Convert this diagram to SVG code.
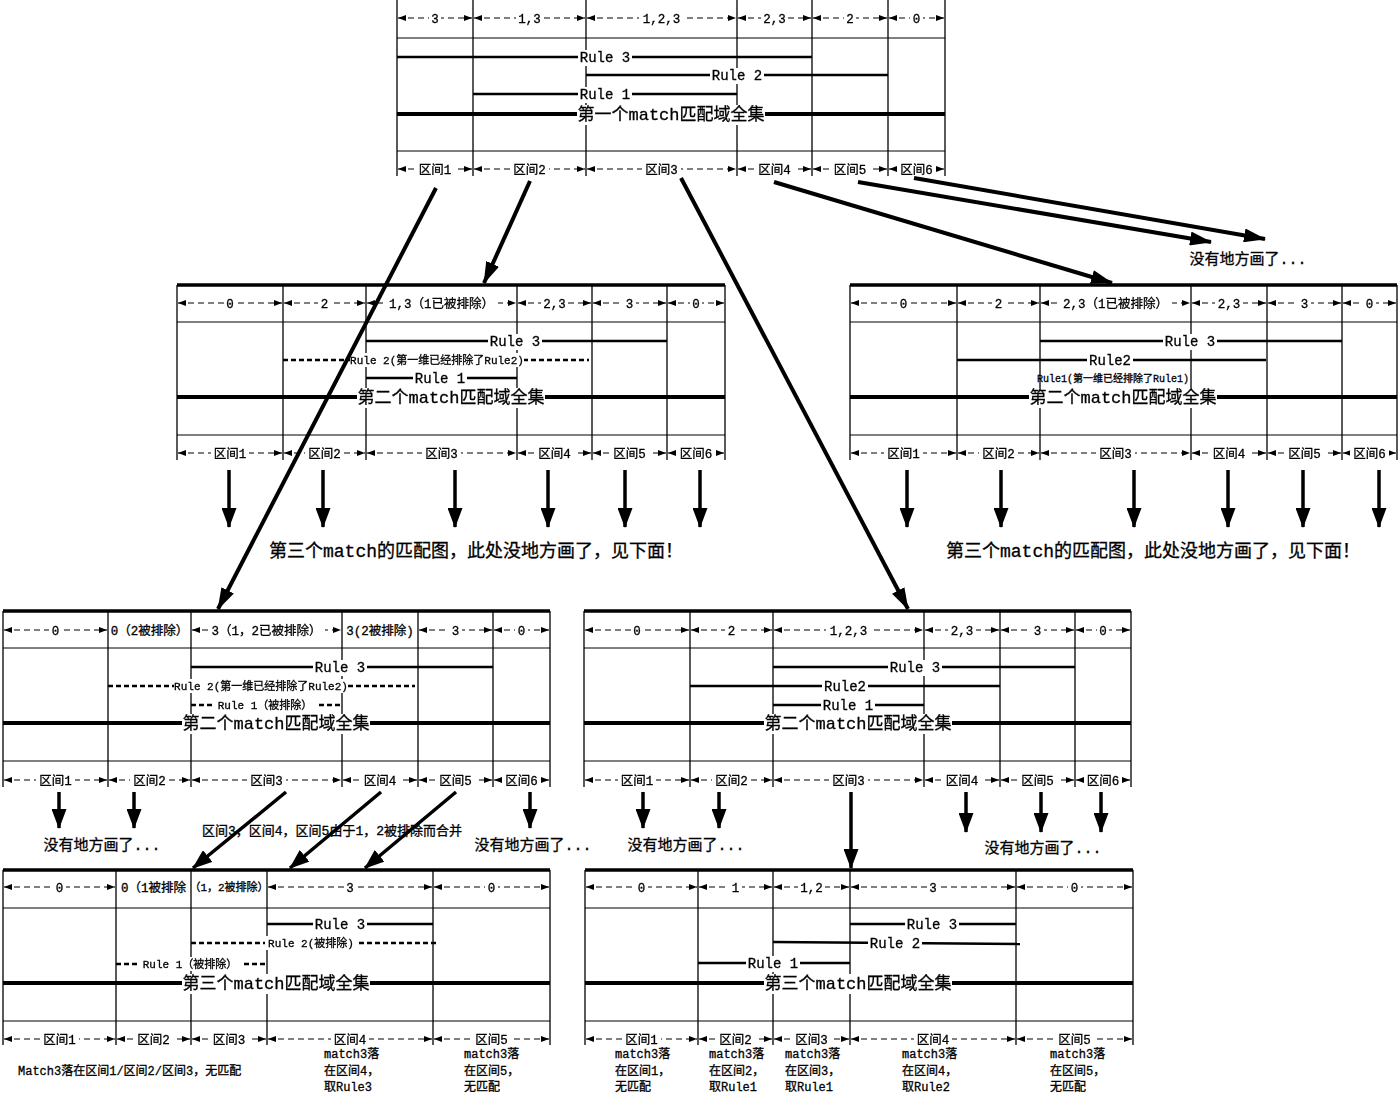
<svg xmlns="http://www.w3.org/2000/svg" width="1400" height="1096" viewBox="0 0 1400 1096">
<style>
text{font-family:"Liberation Mono","Noto Sans CJK SC",monospace;fill:#000;stroke:#000;stroke-width:0.3px}
.s{font-size:12.5px;text-anchor:middle}
.s2{font-size:11px;text-anchor:middle}
.a{font-size:12px}
.r{font-size:14px;text-anchor:middle}
.n{font-size:11px;text-anchor:middle}
.n2{font-size:10px;text-anchor:middle}
.ti{font-size:17px;text-anchor:middle}
.big{font-size:18px;text-anchor:middle}
.nm{font-size:15px;text-anchor:middle}
.mg{font-size:13px;text-anchor:middle}
.hs{filter:url(#fs)}
.hm{filter:url(#fm)}
.hl{filter:url(#fl)}
.hx{filter:url(#fx)}
line{stroke:#000}
.v{stroke-width:1.3}
.h{stroke-width:1}
.tb{stroke-width:3.5}
.th{stroke-width:4}
.ru{stroke-width:2.5}
.rd{stroke-width:2.5;stroke-dasharray:5 3}
.dim{stroke-width:1;stroke-dasharray:6 4;marker-start:url(#da);marker-end:url(#da)}
.c{stroke-width:4;marker-end:url(#ah)}
.cd{stroke-width:3.5;marker-end:url(#ah2)}
</style>
<defs>
<filter id="fs" x="-0.25" y="0" width="1.5" height="1" color-interpolation-filters="sRGB"><feFlood flood-color="#fff"/><feComposite in="SourceGraphic" operator="over"/></filter>
<filter id="fm" x="-0.08" y="0" width="1.16" height="1" color-interpolation-filters="sRGB"><feFlood flood-color="#fff"/><feComposite in="SourceGraphic" operator="over"/></filter>
<filter id="fl" x="-0.03" y="0" width="1.06" height="1" color-interpolation-filters="sRGB"><feFlood flood-color="#fff"/><feComposite in="SourceGraphic" operator="over"/></filter>
<filter id="fx" x="0" y="0" width="1" height="1" color-interpolation-filters="sRGB"><feFlood flood-color="#fff"/><feComposite in="SourceGraphic" operator="over"/></filter>
<marker id="da" viewBox="0 0 8 6" refX="8" refY="3" markerWidth="8" markerHeight="6" markerUnits="userSpaceOnUse" orient="auto-start-reverse"><path d="M0,0L8,3L0,6z" fill="#000"/></marker>
<marker id="ah" viewBox="0 0 22 14" refX="21" refY="7" markerWidth="22" markerHeight="14" markerUnits="userSpaceOnUse" orient="auto"><path d="M0,0L22,7L0,14z" fill="#000"/></marker>
<marker id="ah2" viewBox="0 0 20 15" refX="19" refY="7.5" markerWidth="20" markerHeight="15" markerUnits="userSpaceOnUse" orient="auto"><path d="M0,0L20,7.5L0,15z" fill="#000"/></marker>
</defs>
<rect width="1400" height="1096" fill="#fff"/>

<g id="match1">
<line class="v" x1="397" y1="0" x2="397" y2="176"/><line class="v" x1="473" y1="0" x2="473" y2="176"/><line class="v" x1="586" y1="0" x2="586" y2="176"/><line class="v" x1="737" y1="0" x2="737" y2="176"/><line class="v" x1="812" y1="0" x2="812" y2="176"/><line class="v" x1="888" y1="0" x2="888" y2="176"/><line class="v" x1="945" y1="0" x2="945" y2="176"/>
<line class="h" x1="397" y1="38" x2="945" y2="38"/><line class="h" x1="397" y1="151" x2="945" y2="151"/>
<line class="dim" x1="398" y1="18" x2="472" y2="18"/><line class="dim" x1="474" y1="18" x2="585" y2="18"/><line class="dim" x1="587" y1="18" x2="736" y2="18"/><line class="dim" x1="738" y1="18" x2="811" y2="18"/><line class="dim" x1="813" y1="18" x2="887" y2="18"/><line class="dim" x1="889" y1="18" x2="944" y2="18"/>
<text class="s hs" x="435" y="22.5">3</text><text class="s hm" x="529.5" y="22.5">1,3</text><text class="s hm" x="661.5" y="22.5">1,2,3</text><text class="s hm" x="774.5" y="22.5">2,3</text><text class="s hs" x="850" y="22.5">2</text><text class="s hs" x="916.5" y="22.5">0</text>
<line class="ru" x1="397" y1="57" x2="812" y2="57"/><text class="r hl" x="605" y="62">Rule 3</text>
<line class="ru" x1="586" y1="75" x2="888" y2="75"/><text class="r hl" x="737" y="80">Rule 2</text>
<line class="ru" x1="473" y1="94" x2="737" y2="94"/><text class="r hl" x="605" y="99">Rule 1</text>
<line class="th" x1="397" y1="114" x2="945" y2="114"/><text class="ti hx" x="671" y="120">第一个match匹配域全集</text>
<line class="dim" x1="398" y1="169" x2="472" y2="169"/><line class="dim" x1="474" y1="169" x2="585" y2="169"/><line class="dim" x1="587" y1="169" x2="736" y2="169"/><line class="dim" x1="738" y1="169" x2="811" y2="169"/><line class="dim" x1="813" y1="169" x2="887" y2="169"/><line class="dim" x1="889" y1="169" x2="944" y2="169"/>
<text class="s hm" x="435" y="173.5">区间1</text><text class="s hm" x="529.5" y="173.5">区间2</text><text class="s hm" x="661.5" y="173.5">区间3</text><text class="s hm" x="774.5" y="173.5">区间4</text><text class="s hm" x="850" y="173.5">区间5</text><text class="s hm" x="916.5" y="173.5">区间6</text>
</g>

<g id="match2-left">
<line class="v" x1="177" y1="285" x2="177" y2="460"/><line class="v" x1="283" y1="285" x2="283" y2="460"/><line class="v" x1="366" y1="285" x2="366" y2="460"/><line class="v" x1="517" y1="285" x2="517" y2="460"/><line class="v" x1="592" y1="285" x2="592" y2="460"/><line class="v" x1="667" y1="285" x2="667" y2="460"/><line class="v" x1="725" y1="285" x2="725" y2="460"/>
<line class="tb" x1="177" y1="285" x2="725" y2="285"/>
<line class="h" x1="177" y1="322" x2="725" y2="322"/><line class="h" x1="177" y1="435" x2="725" y2="435"/>
<line class="dim" x1="178" y1="303" x2="282" y2="303"/><line class="dim" x1="284" y1="303" x2="365" y2="303"/><line class="dim" x1="367" y1="303" x2="516" y2="303"/><line class="dim" x1="518" y1="303" x2="591" y2="303"/><line class="dim" x1="593" y1="303" x2="666" y2="303"/><line class="dim" x1="668" y1="303" x2="724" y2="303"/>
<text class="s hs" x="230" y="307.5">0</text><text class="s hs" x="324.5" y="307.5">2</text><text class="s hl" x="441.5" y="307.5">1,3（1已被排除）</text><text class="s hm" x="554.5" y="307.5">2,3</text><text class="s hs" x="629.5" y="307.5">3</text><text class="s hs" x="696" y="307.5">0</text>
<line class="ru" x1="366" y1="341" x2="667" y2="341"/><text class="r hl" x="515" y="346">Rule 3</text>
<line class="rd" x1="283" y1="360" x2="589" y2="360"/><text class="n hx" x="437" y="364">Rule 2(第一维已经排除了Rule2)</text>
<line class="ru" x1="366" y1="378" x2="517" y2="378"/><text class="r hl" x="440" y="383">Rule 1</text>
<line class="th" x1="177" y1="397" x2="725" y2="397"/><text class="ti hx" x="451" y="403">第二个match匹配域全集</text>
<line class="dim" x1="178" y1="453" x2="282" y2="453"/><line class="dim" x1="284" y1="453" x2="365" y2="453"/><line class="dim" x1="367" y1="453" x2="516" y2="453"/><line class="dim" x1="518" y1="453" x2="591" y2="453"/><line class="dim" x1="593" y1="453" x2="666" y2="453"/><line class="dim" x1="668" y1="453" x2="724" y2="453"/>
<text class="s hm" x="230" y="457.5">区间1</text><text class="s hm" x="324.5" y="457.5">区间2</text><text class="s hm" x="441.5" y="457.5">区间3</text><text class="s hm" x="554.5" y="457.5">区间4</text><text class="s hm" x="629.5" y="457.5">区间5</text><text class="s hm" x="696" y="457.5">区间6</text>
</g>

<g id="match2-right">
<line class="v" x1="850" y1="285" x2="850" y2="460"/><line class="v" x1="957" y1="285" x2="957" y2="460"/><line class="v" x1="1040" y1="285" x2="1040" y2="460"/><line class="v" x1="1191" y1="285" x2="1191" y2="460"/><line class="v" x1="1267" y1="285" x2="1267" y2="460"/><line class="v" x1="1342" y1="285" x2="1342" y2="460"/><line class="v" x1="1397" y1="285" x2="1397" y2="460"/>
<line class="tb" x1="850" y1="285" x2="1397" y2="285"/>
<line class="h" x1="850" y1="322" x2="1397" y2="322"/><line class="h" x1="850" y1="435" x2="1397" y2="435"/>
<line class="dim" x1="851" y1="303" x2="956" y2="303"/><line class="dim" x1="958" y1="303" x2="1039" y2="303"/><line class="dim" x1="1041" y1="303" x2="1190" y2="303"/><line class="dim" x1="1192" y1="303" x2="1266" y2="303"/><line class="dim" x1="1268" y1="303" x2="1341" y2="303"/><line class="dim" x1="1343" y1="303" x2="1396" y2="303"/>
<text class="s hs" x="903.5" y="307.5">0</text><text class="s hs" x="998.5" y="307.5">2</text><text class="s hl" x="1115.5" y="307.5">2,3（1已被排除）</text><text class="s hm" x="1229" y="307.5">2,3</text><text class="s hs" x="1304.5" y="307.5">3</text><text class="s hs" x="1369.5" y="307.5">0</text>
<line class="ru" x1="1040" y1="341" x2="1342" y2="341"/><text class="r hl" x="1190" y="346">Rule 3</text>
<line class="ru" x1="957" y1="360" x2="1266" y2="360"/><text class="r hl" x="1110" y="365">Rule2</text>
<text class="n2" x="1113" y="382">Rule1(第一维已经排除了Rule1)</text>
<line class="th" x1="850" y1="397" x2="1397" y2="397"/><text class="ti hx" x="1123" y="403">第二个match匹配域全集</text>
<line class="dim" x1="851" y1="453" x2="956" y2="453"/><line class="dim" x1="958" y1="453" x2="1039" y2="453"/><line class="dim" x1="1041" y1="453" x2="1190" y2="453"/><line class="dim" x1="1192" y1="453" x2="1266" y2="453"/><line class="dim" x1="1268" y1="453" x2="1341" y2="453"/><line class="dim" x1="1343" y1="453" x2="1396" y2="453"/>
<text class="s hm" x="903.5" y="457.5">区间1</text><text class="s hm" x="998.5" y="457.5">区间2</text><text class="s hm" x="1115.5" y="457.5">区间3</text><text class="s hm" x="1229" y="457.5">区间4</text><text class="s hm" x="1304.5" y="457.5">区间5</text><text class="s hm" x="1369.5" y="457.5">区间6</text>
</g>

<g id="match2-lower-left">
<line class="v" x1="3" y1="611" x2="3" y2="787"/><line class="v" x1="108" y1="611" x2="108" y2="787"/><line class="v" x1="191" y1="611" x2="191" y2="787"/><line class="v" x1="342" y1="611" x2="342" y2="787"/><line class="v" x1="418" y1="611" x2="418" y2="787"/><line class="v" x1="493" y1="611" x2="493" y2="787"/><line class="v" x1="550" y1="611" x2="550" y2="787"/>
<line class="tb" x1="3" y1="611" x2="550" y2="611"/>
<line class="h" x1="3" y1="648" x2="550" y2="648"/><line class="h" x1="3" y1="761" x2="550" y2="761"/>
<line class="dim" x1="4" y1="630" x2="107" y2="630"/><line class="dim" x1="192" y1="630" x2="341" y2="630"/><line class="dim" x1="419" y1="630" x2="492" y2="630"/><line class="dim" x1="494" y1="630" x2="549" y2="630"/>
<text class="s hs" x="55.5" y="634.5">0</text><text class="s" x="149.5" y="634.5">0（2被排除）</text><text class="s hl" x="266.5" y="634.5">3（1，2已被排除）</text><text class="s" x="380" y="634.5">3(2被排除)</text><text class="s hs" x="455.5" y="634.5">3</text><text class="s hs" x="521.5" y="634.5">0</text>
<line class="ru" x1="191" y1="667" x2="493" y2="667"/><text class="r hl" x="340" y="672">Rule 3</text>
<line class="rd" x1="108" y1="686" x2="415" y2="686"/><text class="n hx" x="261" y="690">Rule 2(第一维已经排除了Rule2)</text>
<line class="rd" x1="191" y1="705" x2="342" y2="705"/><text class="n hl" x="265" y="709">Rule 1（被排除）</text>
<line class="th" x1="3" y1="723" x2="550" y2="723"/><text class="ti hx" x="276" y="729">第二个match匹配域全集</text>
<line class="dim" x1="4" y1="780" x2="107" y2="780"/><line class="dim" x1="109" y1="780" x2="190" y2="780"/><line class="dim" x1="192" y1="780" x2="341" y2="780"/><line class="dim" x1="343" y1="780" x2="417" y2="780"/><line class="dim" x1="419" y1="780" x2="492" y2="780"/><line class="dim" x1="494" y1="780" x2="549" y2="780"/>
<text class="s hm" x="55.5" y="784.5">区间1</text><text class="s hm" x="149.5" y="784.5">区间2</text><text class="s hm" x="266.5" y="784.5">区间3</text><text class="s hm" x="380" y="784.5">区间4</text><text class="s hm" x="455.5" y="784.5">区间5</text><text class="s hm" x="521.5" y="784.5">区间6</text>
</g>

<g id="match2-lower-right">
<line class="v" x1="584" y1="611" x2="584" y2="787"/><line class="v" x1="690" y1="611" x2="690" y2="787"/><line class="v" x1="773" y1="611" x2="773" y2="787"/><line class="v" x1="924" y1="611" x2="924" y2="787"/><line class="v" x1="1000" y1="611" x2="1000" y2="787"/><line class="v" x1="1075" y1="611" x2="1075" y2="787"/><line class="v" x1="1131" y1="611" x2="1131" y2="787"/>
<line class="tb" x1="584" y1="611" x2="1131" y2="611"/>
<line class="h" x1="584" y1="648" x2="1131" y2="648"/><line class="h" x1="584" y1="761" x2="1131" y2="761"/>
<line class="dim" x1="585" y1="630" x2="689" y2="630"/><line class="dim" x1="691" y1="630" x2="772" y2="630"/><line class="dim" x1="774" y1="630" x2="923" y2="630"/><line class="dim" x1="925" y1="630" x2="999" y2="630"/><line class="dim" x1="1001" y1="630" x2="1074" y2="630"/><line class="dim" x1="1076" y1="630" x2="1130" y2="630"/>
<text class="s hs" x="637" y="634.5">0</text><text class="s hs" x="731.5" y="634.5">2</text><text class="s hm" x="848.5" y="634.5">1,2,3</text><text class="s hm" x="962" y="634.5">2,3</text><text class="s hs" x="1037.5" y="634.5">3</text><text class="s hs" x="1103" y="634.5">0</text>
<line class="ru" x1="773" y1="667" x2="1075" y2="667"/><text class="r hl" x="915" y="672">Rule 3</text>
<line class="ru" x1="690" y1="686" x2="1000" y2="686"/><text class="r hl" x="845" y="691">Rule2</text>
<line class="ru" x1="773" y1="705" x2="924" y2="705"/><text class="r hl" x="848" y="710">Rule 1</text>
<line class="th" x1="584" y1="723" x2="1131" y2="723"/><text class="ti hx" x="858" y="729">第二个match匹配域全集</text>
<line class="dim" x1="585" y1="780" x2="689" y2="780"/><line class="dim" x1="691" y1="780" x2="772" y2="780"/><line class="dim" x1="774" y1="780" x2="923" y2="780"/><line class="dim" x1="925" y1="780" x2="999" y2="780"/><line class="dim" x1="1001" y1="780" x2="1074" y2="780"/><line class="dim" x1="1076" y1="780" x2="1130" y2="780"/>
<text class="s hm" x="637" y="784.5">区间1</text><text class="s hm" x="731.5" y="784.5">区间2</text><text class="s hm" x="848.5" y="784.5">区间3</text><text class="s hm" x="962" y="784.5">区间4</text><text class="s hm" x="1037.5" y="784.5">区间5</text><text class="s hm" x="1103" y="784.5">区间6</text>
</g>

<g id="match3-left">
<line class="v" x1="3" y1="870" x2="3" y2="1045"/><line class="v" x1="116" y1="870" x2="116" y2="1045"/><line class="v" x1="191" y1="870" x2="191" y2="1045"/><line class="v" x1="267" y1="870" x2="267" y2="1045"/><line class="v" x1="433" y1="870" x2="433" y2="1045"/><line class="v" x1="550" y1="870" x2="550" y2="1045"/>
<line class="tb" x1="3" y1="870" x2="550" y2="870"/>
<line class="h" x1="3" y1="908" x2="550" y2="908"/><line class="h" x1="3" y1="1021" x2="550" y2="1021"/>
<line class="dim" x1="4" y1="887" x2="115" y2="887"/><line class="dim" x1="268" y1="887" x2="432" y2="887"/><line class="dim" x1="434" y1="887" x2="549" y2="887"/>
<text class="s hs" x="59.5" y="891.5">0</text><text class="s" x="153.5" y="891.5">0（1被排除</text><text class="s2" x="229" y="891">（1，2被排除）</text><text class="s hs" x="350" y="891.5">3</text><text class="s hs" x="491.5" y="891.5">0</text>
<line class="ru" x1="267" y1="924" x2="433" y2="924"/><text class="r hl" x="340" y="929">Rule 3</text>
<line class="rd" x1="191" y1="943" x2="437" y2="943"/><text class="n hl" x="311" y="947">Rule 2(被排除)</text>
<line class="rd" x1="116" y1="964" x2="267" y2="964"/><text class="n hl" x="190" y="968">Rule 1（被排除）</text>
<line class="th" x1="3" y1="983" x2="550" y2="983"/><text class="ti hx" x="276" y="989">第三个match匹配域全集</text>
<line class="dim" x1="4" y1="1039" x2="115" y2="1039"/><line class="dim" x1="117" y1="1039" x2="190" y2="1039"/><line class="dim" x1="192" y1="1039" x2="266" y2="1039"/><line class="dim" x1="268" y1="1039" x2="432" y2="1039"/><line class="dim" x1="434" y1="1039" x2="549" y2="1039"/>
<text class="s hm" x="59.5" y="1043.5">区间1</text><text class="s hm" x="153.5" y="1043.5">区间2</text><text class="s hm" x="229" y="1043.5">区间3</text><text class="s hm" x="350" y="1043.5">区间4</text><text class="s hm" x="491.5" y="1043.5">区间5</text>
</g>

<g id="match3-right">
<line class="v" x1="585" y1="870" x2="585" y2="1045"/><line class="v" x1="698" y1="870" x2="698" y2="1045"/><line class="v" x1="773" y1="870" x2="773" y2="1045"/><line class="v" x1="850" y1="870" x2="850" y2="1045"/><line class="v" x1="1016" y1="870" x2="1016" y2="1045"/><line class="v" x1="1133" y1="870" x2="1133" y2="1045"/>
<line class="tb" x1="585" y1="870" x2="1133" y2="870"/>
<line class="h" x1="585" y1="908" x2="1133" y2="908"/><line class="h" x1="585" y1="1021" x2="1133" y2="1021"/>
<line class="dim" x1="586" y1="887" x2="697" y2="887"/><line class="dim" x1="699" y1="887" x2="772" y2="887"/><line class="dim" x1="774" y1="887" x2="849" y2="887"/><line class="dim" x1="851" y1="887" x2="1015" y2="887"/><line class="dim" x1="1017" y1="887" x2="1132" y2="887"/>
<text class="s hs" x="641.5" y="891.5">0</text><text class="s hs" x="735.5" y="891.5">1</text><text class="s hm" x="811.5" y="891.5">1,2</text><text class="s hs" x="933" y="891.5">3</text><text class="s hs" x="1074.5" y="891.5">0</text>
<line class="ru" x1="850" y1="924" x2="1016" y2="924"/><text class="r hl" x="932" y="929">Rule 3</text>
<line class="ru" x1="773" y1="942" x2="1020" y2="944"/><text class="r hl" x="895" y="948">Rule 2</text>
<line class="ru" x1="698" y1="963" x2="850" y2="963"/><text class="r hl" x="773" y="968">Rule 1</text>
<line class="th" x1="585" y1="983" x2="1133" y2="983"/><text class="ti hx" x="858" y="989">第三个match匹配域全集</text>
<line class="dim" x1="586" y1="1039" x2="697" y2="1039"/><line class="dim" x1="699" y1="1039" x2="772" y2="1039"/><line class="dim" x1="774" y1="1039" x2="849" y2="1039"/><line class="dim" x1="851" y1="1039" x2="1015" y2="1039"/><line class="dim" x1="1017" y1="1039" x2="1132" y2="1039"/>
<text class="s hm" x="641.5" y="1043.5">区间1</text><text class="s hm" x="735.5" y="1043.5">区间2</text><text class="s hm" x="811.5" y="1043.5">区间3</text><text class="s hm" x="933" y="1043.5">区间4</text><text class="s hm" x="1074.5" y="1043.5">区间5</text>
</g>

<g id="notes">
<text class="nm" x="1248" y="264">没有地方画了...</text>
<text class="big" x="476" y="557">第三个match的匹配图，此处没地方画了，见下面！</text>
<text class="big" x="1153" y="557">第三个match的匹配图，此处没地方画了，见下面！</text>
<text class="nm" x="102" y="850">没有地方画了...</text>
<text class="nm" x="533" y="850">没有地方画了...</text>
<text class="nm" x="686" y="850">没有地方画了...</text>
<text class="nm" x="1043" y="853">没有地方画了...</text>
<text class="mg" x="332" y="835">区间3，区间4，区间5由于1，2被排除而合并</text>
<text class="a" x="18" y="1075">Match3落在区间1/区间2/区间3，无匹配</text>
<text class="a" x="324" y="1058">match3落</text><text class="a" x="324" y="1075">在区间4，</text><text class="a" x="324" y="1091">取Rule3</text>
<text class="a" x="464" y="1058">match3落</text><text class="a" x="464" y="1075">在区间5，</text><text class="a" x="464" y="1091">无匹配</text>
<text class="a" x="615" y="1058">match3落</text><text class="a" x="615" y="1075">在区间1，</text><text class="a" x="615" y="1091">无匹配</text>
<text class="a" x="709" y="1058">match3落</text><text class="a" x="709" y="1075">在区间2，</text><text class="a" x="709" y="1091">取Rule1</text>
<text class="a" x="785" y="1058">match3落</text><text class="a" x="785" y="1075">在区间3，</text><text class="a" x="785" y="1091">取Rule1</text>
<text class="a" x="902" y="1058">match3落</text><text class="a" x="902" y="1075">在区间4，</text><text class="a" x="902" y="1091">取Rule2</text>
<text class="a" x="1050" y="1058">match3落</text><text class="a" x="1050" y="1075">在区间5，</text><text class="a" x="1050" y="1091">无匹配</text>
</g>

<g id="connectors">
<line class="c" x1="436" y1="188" x2="218" y2="609"/>
<line class="c" x1="530" y1="181" x2="484" y2="283"/>
<line class="c" x1="681" y1="178" x2="908" y2="609"/>
<line class="c" x1="774" y1="182" x2="1112" y2="283"/>
<line class="c" x1="858" y1="182" x2="1211" y2="242"/>
<line class="c" x1="914" y1="178" x2="1265" y2="239"/>
<line class="cd" x1="229" y1="470" x2="229" y2="527"/><line class="cd" x1="323" y1="470" x2="323" y2="527"/><line class="cd" x1="455" y1="470" x2="455" y2="527"/><line class="cd" x1="548" y1="470" x2="548" y2="527"/><line class="cd" x1="625" y1="470" x2="625" y2="527"/><line class="cd" x1="700" y1="470" x2="700" y2="527"/>
<line class="cd" x1="907" y1="470" x2="907" y2="527"/><line class="cd" x1="1001" y1="470" x2="1001" y2="527"/><line class="cd" x1="1134" y1="470" x2="1134" y2="527"/><line class="cd" x1="1228" y1="470" x2="1228" y2="527"/><line class="cd" x1="1303" y1="470" x2="1303" y2="527"/><line class="cd" x1="1379" y1="470" x2="1379" y2="527"/>
<line class="cd" x1="59" y1="792" x2="59" y2="828"/><line class="cd" x1="134" y1="792" x2="134" y2="828"/><line class="cd" x1="530" y1="792" x2="530" y2="828"/>
<line class="cd" x1="286" y1="792" x2="193" y2="868"/><line class="cd" x1="381" y1="792" x2="290" y2="868"/><line class="cd" x1="456" y1="792" x2="365" y2="868"/>
<line class="cd" x1="643" y1="792" x2="643" y2="828"/><line class="cd" x1="719" y1="792" x2="719" y2="828"/><line class="cd" x1="851" y1="792" x2="851" y2="868"/>
<line class="cd" x1="966" y1="792" x2="966" y2="832"/><line class="cd" x1="1041" y1="792" x2="1041" y2="832"/><line class="cd" x1="1101" y1="792" x2="1101" y2="832"/>
</g>
</svg>
